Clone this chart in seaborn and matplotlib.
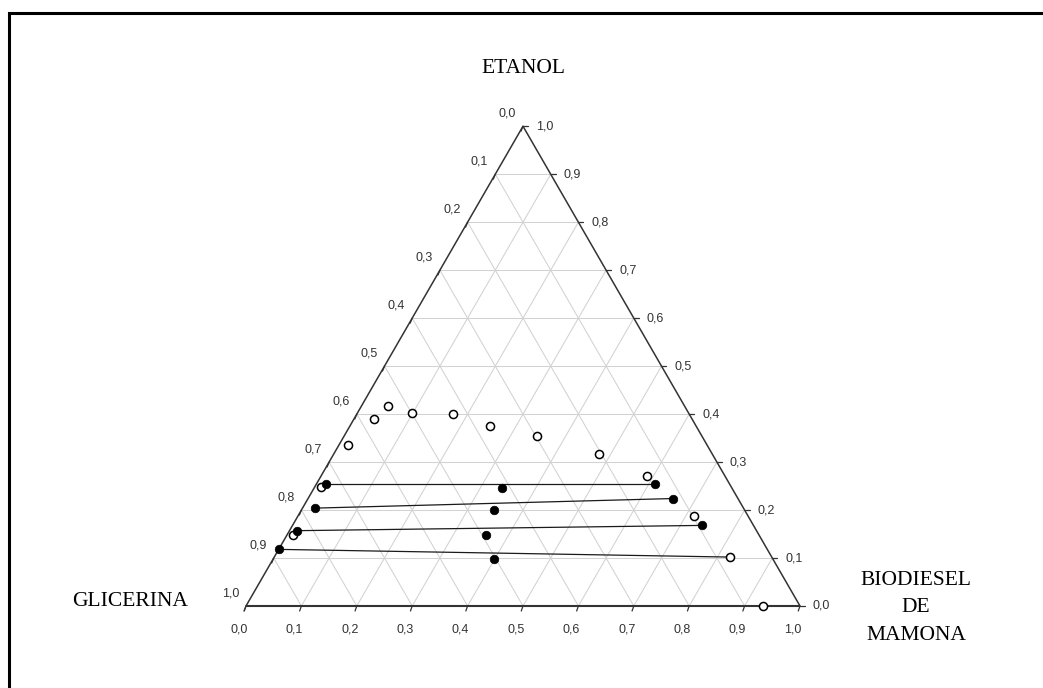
import numpy as np
import pandas as pd
import matplotlib
matplotlib.use("Agg")
import matplotlib.pyplot as plt
from matplotlib.patches import Rectangle
import seaborn as sns

# Binodal curve points (mass fractions of ethanol and castor biodiesel)
binodal_etanol = [0.000, 0.102, 0.187, 0.270, 0.317, 0.354, 0.376, 0.400,
                  0.402, 0.417, 0.390, 0.336, 0.247, 0.148]
binodal_biodiesel = [0.933, 0.822, 0.716, 0.589, 0.478, 0.348, 0.253, 0.173,
                     0.098, 0.047, 0.036, 0.016, 0.012, 0.011]

# Tie lines: glycerin-rich phase, biodiesel-rich phase and overall feed
tie_gli_etanol = [0.254, 0.204, 0.157, 0.118]
tie_gli_biodiesel = [0.017, 0.023, 0.013, 0.001]
tie_bio_etanol = [0.254, 0.224, 0.168, 0.102]
tie_bio_biodiesel = [0.612, 0.659, 0.740, 0.822]
tie_bio_filled = [True, True, True, False]
feed_etanol = [0.245, 0.200, 0.149, 0.098]
feed_biodiesel = [0.340, 0.348, 0.359, 0.399]

tick_values = [i / 10 for i in range(11)]
tick_labels = [f"{v:.1f}".replace(".", ",") for v in tick_values]

H = np.sqrt(3) / 2


def to_xy(etanol, biodiesel):
    e = np.asarray(etanol, dtype=float)
    b = np.asarray(biodiesel, dtype=float)
    return b + e / 2, e * H


sns.set_style("white")
plt.rcParams["font.family"] = ["Liberation Sans", "DejaVu Sans"]

W, Hpx = 1043, 688
fig = plt.figure(figsize=(W / 100, Hpx / 100), dpi=100)
ax = fig.add_axes([0, 0, 1, 1])
scale = 554.0
x0, y0 = 246.0, 606.0
ax.set_xlim(-x0 / scale, (W - x0) / scale)
ax.set_ylim(-(Hpx - y0) / scale, y0 / scale)
ax.axis("off")

# grid lines of the three families
grid_kw = dict(color="#d2d2d2", lw=0.75, zorder=1)
for v in tick_values[1:-1]:
    ax.plot([v / 2, 1 - v / 2], [v * H, v * H], **grid_kw)          # constant ethanol
    ax.plot([v, v + (1 - v) / 2], [0, (1 - v) * H], **grid_kw)      # constant glycerin
    ax.plot([v, v / 2], [0, v * H], **grid_kw)                      # constant biodiesel

# triangle outline
edge_col = "#333333"
ax.plot([0, 1], [0, 0], color=edge_col, lw=1.5, zorder=2, solid_capstyle="butt")
ax.plot([1, 0.5, 0], [0, H, 0], color=edge_col, lw=1.1, zorder=2)

# ticks and tick labels
tick_len = 5 / scale
lab_kw = dict(fontsize=9, color="#333333", textcoords="offset pixels")
for v, lab in zip(tick_values, tick_labels):
    # bottom axis (biodiesel)
    ax.plot([v, v - 0.35 * tick_len], [0, -tick_len], color=edge_col, lw=0.9, zorder=2)
    ax.annotate(lab, (v, 0), xytext=(-7, -24), ha="center", va="center", **lab_kw)
    # right axis (ethanol)
    rx, ry = 1 - v / 2, v * H
    ax.plot([rx, rx + tick_len], [ry, ry], color=edge_col, lw=0.9, zorder=2)
    ax.annotate(lab, (rx, ry), xytext=(13, 0), ha="left", va="center", **lab_kw)
    # left axis (glycerin)
    lx, ly = 0.5 - v / 2, (1 - v) * H
    ax.plot([lx, lx - 0.4 * tick_len], [ly, ly - tick_len], color=edge_col, lw=0.9, zorder=2)
    ax.annotate(lab, (lx, ly), xytext=(-7, 13), ha="right", va="center", **lab_kw)

# tie lines
gx, gy = to_xy(tie_gli_etanol, tie_gli_biodiesel)
bx, by = to_xy(tie_bio_etanol, tie_bio_biodiesel)
ties = pd.DataFrame({
    "x": np.concatenate([gx, bx]),
    "y": np.concatenate([gy, by]),
    "tie": list(range(len(gx))) * 2,
})
sns.lineplot(data=ties, x="x", y="y", units="tie", estimator=None, sort=False,
             color="#1a1a1a", lw=0.9, ax=ax, zorder=3, legend=False)

# binodal points (open circles)
px_, py_ = to_xy(binodal_etanol, binodal_biodiesel)
sns.scatterplot(x=px_, y=py_, s=34, marker="o", facecolor="white",
                edgecolor="black", linewidth=1.1, ax=ax, zorder=4, legend=False)

# phase compositions and feeds (filled circles)
fx, fy = to_xy(feed_etanol, feed_biodiesel)
mask = np.array(tie_bio_filled)
solid = pd.DataFrame({
    "x": np.concatenate([gx, bx[mask], fx]),
    "y": np.concatenate([gy, by[mask], fy]),
})
sns.scatterplot(data=solid, x="x", y="y", s=38, marker="o", color="black",
                edgecolor="black", linewidth=0.5, ax=ax, zorder=5, legend=False)

# component names
title_kw = dict(family=["Liberation Serif", "DejaVu Serif"], fontsize=15.5,
                color="black", textcoords="offset pixels", ha="center", va="center")
ax.annotate("ETANOL", (0.5, H), xytext=(0, 58), **title_kw)
ax.annotate("GLICERINA", (0, 0), xytext=(-116, 5), **title_kw)
ax.annotate("BIODIESEL\nDE\nMAMONA", (1, 0), xytext=(116, -2),
            multialignment="center", linespacing=1.62, **title_kw)

ax.set_xlabel("")
ax.set_ylabel("")

# frame around the figure (open towards the right and bottom)
fig.patches.append(Rectangle((8.5 / W, -0.1), 1.2, 1.1 - 12.5 / Hpx,
                             transform=fig.transFigure, fill=False,
                             edgecolor="black", lw=2.2, zorder=10))

fig.savefig("out.png", dpi=100)
